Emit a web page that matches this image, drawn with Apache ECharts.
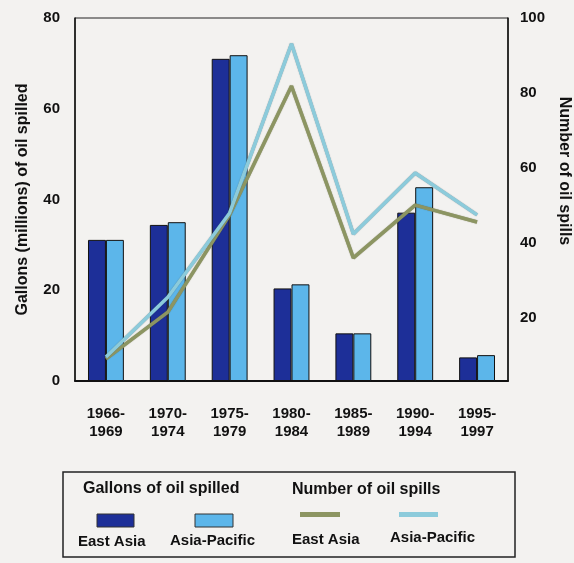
<!DOCTYPE html>
<html>
<head>
<meta charset="utf-8">
<script src="https://cdn.jsdelivr.net/npm/echarts@6/dist/echarts.min.js"></script>
<style>
html,body{margin:0;padding:0;background:#f3f2f0;}
#c{width:574px;height:563px;}
</style>
</head>
<body>
<div id="c"></div>
<script>
var categories = ['1966-\n1969','1970-\n1974','1975-\n1979','1980-\n1984','1985-\n1989','1990-\n1994','1995-\n1997'];
var gallonsEastAsia = [31.1, 34.4, 71.0, 20.4, 10.5, 37.1, 5.2];
var gallonsAsiaPacific = [31.1, 35.0, 71.8, 21.3, 10.5, 42.7, 5.7];
var spillsEastAsia = [8.9, 21.4, 47.4, 81.8, 35.9, 50.0, 45.5];
var spillsAsiaPacific = [9.4, 25.4, 47.9, 93.1, 42.3, 58.6, 47.4];
var leftTicks = [0, 20, 40, 60, 80];
var rightTicks = [20, 40, 60, 80, 100];

var DARK = '#1d2f98';
var LIGHT = '#5cb6ea';
var OLIVE = '#8c9562';
var LINEBLUE = '#8ccbdb';
var FONT = '"Liberation Sans Narrow","Liberation Sans",Arial,sans-serif';
var FONT2 = '"Liberation Sans",Arial,sans-serif';

var chart = echarts.init(document.getElementById('c'));
chart.setOption({
  backgroundColor: '#f3f2f0',
  animation: false,
  grid: {left: 75, right: 66, top: 18, bottom: 182, show: true, borderColor: '#222', borderWidth: 1, backgroundColor: 'transparent'},
  xAxis: {
    type: 'category', data: categories,
    axisLine: {lineStyle: {color: '#111', width: 2}},
    axisTick: {show: false},
    axisLabel: {color: '#111', fontFamily: FONT, fontWeight: 'bold', fontSize: 15, lineHeight: 18, margin: 24, interval: 0}
  },
  yAxis: [{
    type: 'value', min: 0, max: 80, interval: 20,
    axisLine: {show: true, lineStyle: {color: '#111', width: 1.5}},
    axisTick: {show: false}, splitLine: {show: false},
    axisLabel: {color: '#111', fontFamily: FONT, fontWeight: 'bold', fontSize: 15, margin: 15, customValues: leftTicks},
    name: 'Gallons (millions) of oil spilled', nameLocation: 'middle', nameGap: 44,
    nameTextStyle: {color: '#111', fontFamily: FONT2, fontWeight: 'bold', fontSize: 16}
  }, {
    type: 'value', min: 3, max: 100, position: 'right',
    axisLine: {show: true, lineStyle: {color: '#111', width: 1.5}},
    axisTick: {show: false}, splitLine: {show: false},
    axisLabel: {color: '#111', fontFamily: FONT, fontWeight: 'bold', fontSize: 15, margin: 12, customValues: rightTicks}
  }],
  graphic: [
    {type: 'text', x: 564, y: 171, rotation: -Math.PI / 2,
     style: {text: 'Number of oil spills', x: 0, y: 0, textAlign: 'center', textVerticalAlign: 'middle', fill: '#111', font: 'bold 16px ' + FONT2}},
    {type: 'rect', shape: {x: 63, y: 472, width: 452, height: 85}, style: {fill: 'none', stroke: '#222', lineWidth: 1.5}},
    {type: 'text', style: {text: 'Gallons of oil spilled', x: 83, y: 489, textVerticalAlign: 'middle', fill: '#111', font: 'bold 16px ' + FONT2}},
    {type: 'text', style: {text: 'Number of oil spills', x: 292, y: 490, textVerticalAlign: 'middle', fill: '#111', font: 'bold 16px ' + FONT2}},
    {type: 'rect', shape: {x: 97, y: 514, width: 37, height: 13}, style: {fill: DARK, stroke: '#333', lineWidth: 1}},
    {type: 'rect', shape: {x: 195, y: 514, width: 38, height: 13}, style: {fill: LIGHT, stroke: '#333', lineWidth: 1}},
    {type: 'rect', shape: {x: 300, y: 512, width: 40, height: 5}, style: {fill: OLIVE}},
    {type: 'rect', shape: {x: 399, y: 512, width: 39, height: 5}, style: {fill: LINEBLUE}},
    {type: 'text', style: {text: 'East Asia', x: 78, y: 542, textVerticalAlign: 'middle', fill: '#111', font: 'bold 15px ' + FONT2}},
    {type: 'text', style: {text: 'Asia-Pacific', x: 170, y: 541, textVerticalAlign: 'middle', fill: '#111', font: 'bold 15px ' + FONT2}},
    {type: 'text', style: {text: 'East Asia', x: 292, y: 540, textVerticalAlign: 'middle', fill: '#111', font: 'bold 15px ' + FONT2}},
    {type: 'text', style: {text: 'Asia-Pacific', x: 390, y: 538, textVerticalAlign: 'middle', fill: '#111', font: 'bold 15px ' + FONT2}}
  ],
  series: [
    {name: 'Gallons East Asia', type: 'bar', data: gallonsEastAsia, barGap: '0%', barCategoryGap: '42%',
     itemStyle: {color: DARK, borderColor: '#111', borderWidth: 1}},
    {name: 'Gallons Asia-Pacific', type: 'bar', data: gallonsAsiaPacific,
     itemStyle: {color: LIGHT, borderColor: '#111', borderWidth: 1}},
    {name: 'Spills East Asia', type: 'line', yAxisIndex: 1, data: spillsEastAsia, symbol: 'none', z: 5,
     lineStyle: {color: OLIVE, width: 3.5, shadowColor: 'rgba(80,80,40,0.6)', shadowBlur: 1}},
    {name: 'Spills Asia-Pacific', type: 'line', yAxisIndex: 1, data: spillsAsiaPacific, symbol: 'none', z: 6,
     lineStyle: {color: LINEBLUE, width: 3.5, shadowColor: 'rgba(60,90,100,0.6)', shadowBlur: 1}}
  ]
});
</script>
</body>
</html>
